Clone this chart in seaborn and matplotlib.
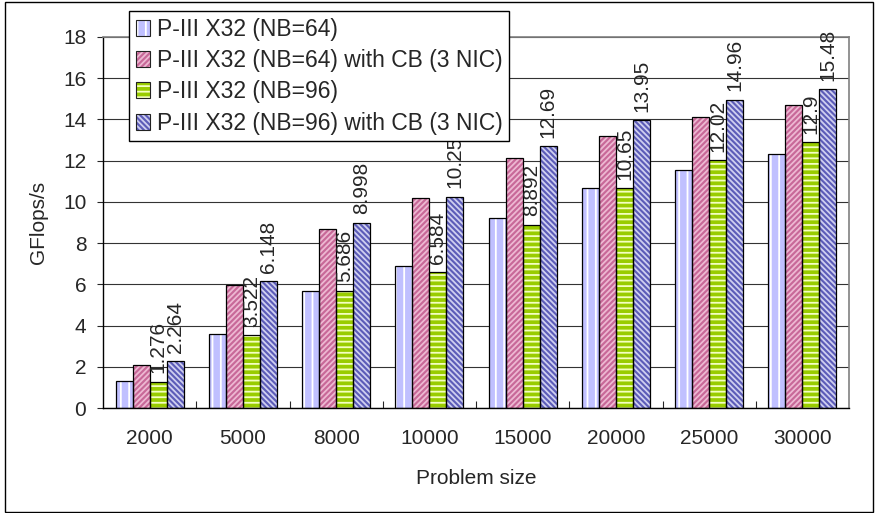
import pandas as pd
import matplotlib
matplotlib.use('Agg')
import matplotlib.pyplot as plt
import seaborn as sns
from matplotlib.patches import Patch, Rectangle

sizes = ['2000', '5000', '8000', '10000', '15000', '20000', '25000', '30000']
series = ['P-III X32 (NB=64)',
          'P-III X32 (NB=64) with CB (3 NIC)',
          'P-III X32 (NB=96)',
          'P-III X32 (NB=96) with CB (3 NIC)']
nb64 = [1.31, 3.6, 5.7, 6.9, 9.23, 10.68, 11.55, 12.3]
nb64_cb = [2.11, 5.95, 8.69, 10.19, 12.13, 13.22, 14.11, 14.69]
nb96 = [1.276, 3.522, 5.686, 6.584, 8.892, 10.65, 12.02, 12.9]
nb96_cb = [2.264, 6.148, 8.998, 10.25, 12.69, 13.95, 14.96, 15.48]

# face colour, hatch colour, hatch pattern per series
faces = ['#C0C0FF', '#C86898', '#99CC00', '#5C5CB8']
hatch_cols = ['#FFFFFF', '#EDB8D2', '#F4FFC0', '#CFCFF0']
hatches = ['||', '//////', '---', '\\\\\\\\\\\\']

rows = []
for name, vals in zip(series, [nb64, nb64_cb, nb96, nb96_cb]):
    for s, v in zip(sizes, vals):
        rows.append({'size': s, 'series': name, 'gflops': v})
df = pd.DataFrame(rows)

sns.set_style('white')
plt.rcParams['font.family'] = ['Liberation Sans', 'DejaVu Sans']
plt.rcParams['hatch.linewidth'] = 1.3

fig = plt.figure(figsize=(8.78, 5.13), dpi=100)
ax = fig.add_axes([103 / 878, 1 - 408 / 513, 746 / 878, 371 / 513])

sns.barplot(data=df, x='size', y='gflops', hue='series', order=sizes,
            hue_order=series, palette=faces, width=0.73, ax=ax,
            legend=False, saturation=1)

# hatch each series, then draw black outlines on top
for cont, fc, hc, h in zip(ax.containers, faces, hatch_cols, hatches):
    for p in cont.patches:
        p.set_facecolor(fc)
        p.set_edgecolor(hc)
        p.set_hatch(h)
        p.set_linewidth(0)
        ax.add_patch(Rectangle(p.get_xy(), p.get_width(), p.get_height(),
                               fill=False, edgecolor='black', lw=0.9,
                               zorder=p.get_zorder() + 0.1))

# value labels on the NB=96 series only
for cont, vals in zip(ax.containers[2:], [nb96, nb96_cb]):
    ax.bar_label(cont, labels=['%g' % v for v in vals], rotation=90,
                 padding=6, fontsize=15)

ax.set_ylim(0, 18)
ax.set_xlim(-0.5, len(sizes) - 0.5)
ax.set_yticks(range(0, 19, 2))
ax.yaxis.grid(True, color='#333333', lw=0.8)
ax.set_axisbelow(True)
ax.tick_params(axis='y', which='major', direction='out', length=4,
               width=0.8, left=True, labelsize=15, pad=8)
ax.tick_params(axis='x', which='major', length=0, labelsize=15, pad=15)
ax.set_xticks([i + 0.5 for i in range(len(sizes) - 1)], minor=True)
ax.tick_params(axis='x', which='minor', direction='in', length=5,
               width=0.8, bottom=True)

for side in ['left', 'bottom']:
    ax.spines[side].set_color('black')
    ax.spines[side].set_linewidth(1)
for side in ['top', 'right']:
    ax.spines[side].set_visible(True)
    ax.spines[side].set_color('#808080')
    ax.spines[side].set_linewidth(1.2)

ax.set_xlabel('Problem size', fontsize=15, labelpad=15)
ax.set_ylabel('GFlops/s', fontsize=15, labelpad=11)

handles = []
for fc, hc, h in zip(faces, hatch_cols, hatches):
    handles.append((Patch(facecolor=fc, edgecolor=hc, hatch=h, lw=0),
                    Patch(fill=False, edgecolor='#222222', lw=0.8)))
leg = fig.legend(handles, series, loc='upper left',
                 bbox_to_anchor=(129 / 878, 1 - 11 / 513),
                 fontsize=16.5, frameon=True, fancybox=False,
                 edgecolor='black', framealpha=1, handlelength=0.61,
                 handleheight=0.7, handletextpad=0.3, labelspacing=0.36,
                 borderpad=0.3, borderaxespad=0)
leg.get_frame().set_linewidth(1)

# outer chart border
fig.add_artist(Rectangle((5 / 878, 1 / 513), 868 / 878, 510 / 513,
                         transform=fig.transFigure, fill=False,
                         edgecolor='black', lw=1))

plt.savefig('out.png', dpi=100, facecolor='white')
